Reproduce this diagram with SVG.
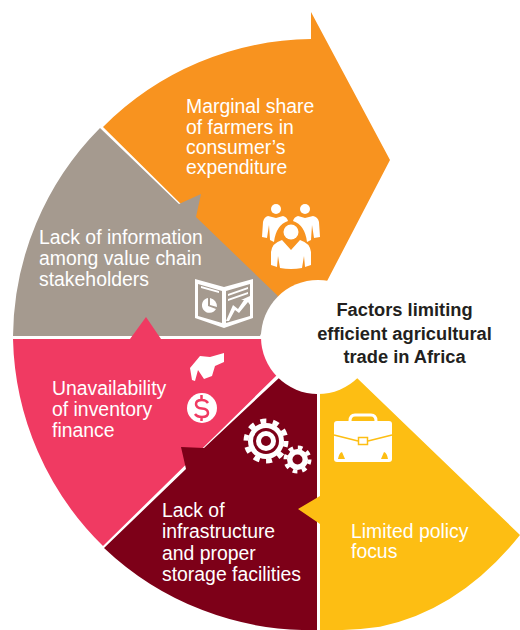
<svg xmlns="http://www.w3.org/2000/svg" width="520" height="630" viewBox="0 0 520 630">
<style>
.t{font-family:"Liberation Sans",Arial,sans-serif;font-size:19.4px;fill:#fff}
.h{font-family:"Liberation Sans",Arial,sans-serif;font-size:18.3px;font-weight:bold;fill:#231f20;text-anchor:middle}
.i{fill:#fff}
.l{fill:none;stroke:#fff}
</style>
<rect width="520" height="630" fill="#fff"/>
<g id="node-orange">
<path d="M103 127 A299 299 0 0 1 311 39 L311 12 L390 160 L312 310 L278 300 Z" fill="#f8931f"/>
<text class="t" x="186" y="113">Marginal share</text>
<text class="t" x="186" y="134">of farmers in</text>
<text class="t" x="186" y="154">consumer’s</text>
<text class="t" x="186" y="174">expenditure</text>
<g id="icon-people">
<circle class="i" cx="276" cy="209" r="5"/><circle class="i" cx="305" cy="209" r="5"/>
<path class="i" d="M268 216 L276 218 L283 216 Q287 217 288 221 Q276 225 274 242 L270 240 L269 225 L267 238 L262 237 L263 222 Q264 217 268 216 Z"/>
<path class="i" d="M313 216 L305 218 L298 216 Q294 217 293 221 Q305 225 307 242 L311 240 L312 225 L314 238 L320 237 L319 222 Q318 217 313 216 Z"/>
<circle class="i" cx="291" cy="232" r="7.500"/>
<path class="i" d="M282 240 L291 250 L300 240 Q310 243 311 252 L311 265 L305 267 L304 256 L302 268 Q291 270 280 268 L278 256 L277 267 L271 265 L271 252 Q272 243 282 240 Z"/>
</g>
</g>
<g id="node-gray">
<path d="M100 128 L179 204 L201 194 L196 217 L278 296 L260 336 L13 336 A299 299 0 0 1 100 128 Z" fill="#a59a8f"/>
<text class="t" x="39" y="244">Lack of information</text>
<text class="t" x="39" y="265">among value chain</text>
<text class="t" x="39" y="286">stakeholders</text>
<g id="icon-report">
<path class="i" fill-rule="evenodd" d="M195 279 L224 287 L253 279 L253 318 L224 328 L195 318 Z M198 284 L198 316 L222 323 L222 291 Z M226 291 L226 323 L250 316 L250 284 Z"/>
<path class="i" d="M201 286 L219 291 L219 293 L201 288 Z M228 294 L248 287 L248 289 L228 296 Z M228 299 L248 292 L248 294 L228 301 Z"/>
<path class="i" d="M208 298 A7.500 7.500 0 1 0 216 309 L208 306 Z M210 298 Q217 300 217 307 L210 305 Z"/>
<path class="i" d="M226 321 L233 305 L238 309 L244 300 L241 300 L250 296 L250 305 L248 302 L239 313 L235 310 L229 321 Z"/>
</g>
</g>
<g id="node-pink">
<path d="M13 339 L130 339 L146 317 L161 339 L262 339 L277 375 L103 546 A299 299 0 0 1 13 339 Z" fill="#f03a62"/>
<text class="t" x="52" y="395">Unavailability</text>
<text class="t" x="52" y="416">of inventory</text>
<text class="t" x="52" y="437">finance</text>
<g id="icon-hand">
<path class="i" d="M190 368 L200 356 L210 357 L224 353 L224 362 L215 366 L212 376 L204 379 L198 370 L195 381 L192 380 Z"/>
<circle class="i" cx="202" cy="408" r="15"/>
<path d="M208 403 Q206 400 202 400 Q196 400 196 404 Q196 408 202 408.500 Q208 409 208 413 Q208 417 202 417 Q197 417 195 414 M201.500 395 L201.500 399 M201.500 418 L201.500 421" fill="none" stroke="#f03a62" stroke-width="2.500"/>
</g>
</g>
<g id="node-dark">
<path d="M181 447 L204 448 L279 378 L317 394 L317 630 A299 299 0 0 1 104 548 L186 469 Z" fill="#7d0018"/>
<text class="t" x="162" y="517">Lack of</text>
<text class="t" x="162" y="538">infrastructure</text>
<text class="t" x="162" y="560">and proper</text>
<text class="t" x="162" y="581">storage facilities</text>
<g id="icon-gears">
<circle class="l" cx="266" cy="441" r="20" stroke-width="5" stroke-dasharray="6 6.570"/>
<circle class="i" cx="266" cy="441" r="18"/>
<circle cx="266" cy="441" r="13" fill="#7d0018"/>
<circle class="i" cx="266" cy="441" r="10"/>
<circle cx="266" cy="441" r="5" fill="#7d0018"/>
<circle class="l" cx="297.500" cy="459.500" r="12" stroke-width="4" stroke-dasharray="4.700 4.720"/>
<circle class="i" cx="297.500" cy="459.500" r="10.500"/>
<circle cx="297.500" cy="459.500" r="5" fill="#7d0018"/>
</g>
</g>
<g id="node-yellow">
<path d="M357 378 L520 535 Q460 610 380 626.700 Q350 631 320 630 L320 524 L298 509 L320 496 L320 390 Z" fill="#fdbe13"/>
<text class="t" x="351" y="538">Limited policy</text>
<text class="t" x="351" y="558">focus</text>
<g id="icon-briefcase">
<path class="l" stroke-width="3" d="M350 421 Q350 415 355 415 L371 415 Q376 415 376 421"/>
<rect class="i" x="334" y="421" width="58" height="41" rx="3"/>
<path d="M334 435 L358 441 M368 441 L392 435" fill="none" stroke="#fdbe13" stroke-width="1.500"/>
<rect class="i" x="358.500" y="437.500" width="9" height="7" stroke="#fdbe13" stroke-width="1.500"/>
<path d="M338 459 Q339 453 342 452 L345 459 Z M388 459 Q387 453 384 452 L381 459 Z" fill="#fdbe13"/>
</g>
</g>
<g id="node-center">
<circle cx="318" cy="337" r="57" fill="#fff"/>
<text class="h" x="404.500" y="316">Factors limiting</text>
<text class="h" x="404.500" y="340">efficient agricultural</text>
<text class="h" x="404.500" y="363">trade in Africa</text>
</g>
</svg>
